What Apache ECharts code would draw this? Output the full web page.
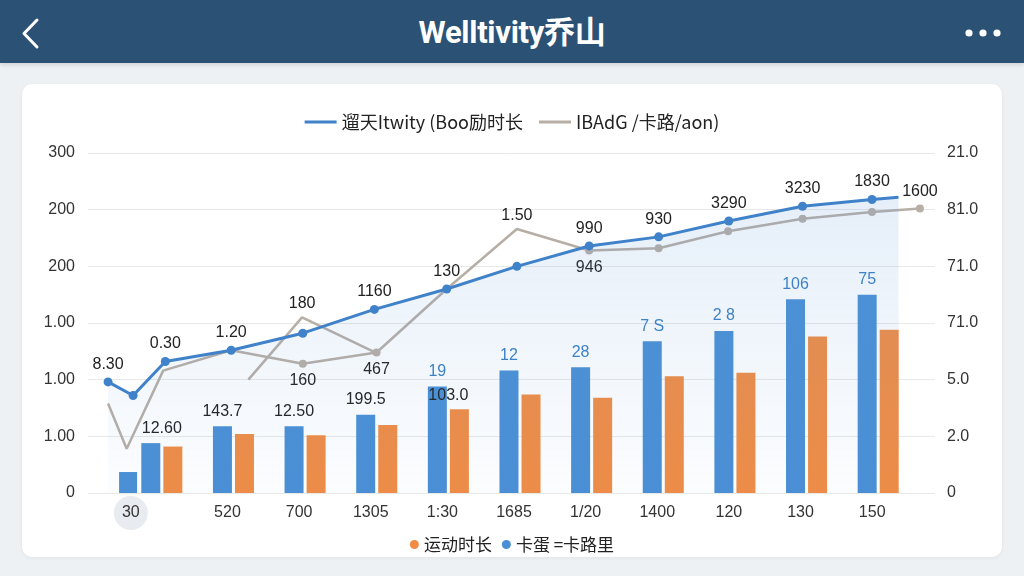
<!DOCTYPE html>
<html>
<head>
<meta charset="utf-8">
<title>Welltivity乔山</title>
<script src="https://cdn.jsdelivr.net/npm/echarts@6/dist/echarts.min.js"></script>
<style>
  html, body { margin: 0; padding: 0; background: #eef1f4; overflow: hidden; }
  .topbar { position: absolute; left: 0; top: 0; width: 1024px; height: 63px; background: #2b5274;
            box-shadow: 0 2px 4px rgba(0, 0, 0, 0.12); }
  .topbar .title { position: absolute; left: 0; right: 0; top: 0; text-align: center;
                   color: #fff; font: bold 31px Roboto, "Noto Sans CJK SC", sans-serif; line-height: 66px;
                   letter-spacing: -0.3px; }
  .topbar svg { position: absolute; left: 0; top: 0; }
  .card { position: absolute; left: 22px; top: 84px; width: 980px; height: 473px; background: #fff;
          border-radius: 10px; box-shadow: 0 1px 4px rgba(0, 0, 0, 0.06); }
  #main { position: absolute; left: 0; top: 0; width: 1024px; height: 576px; }
</style>
</head>
<body>
<div class="topbar">
  <div class="title">Welltivity乔山</div>
  <svg width="1024" height="63">
    <polyline points="37,20 24,33.5 37,47" fill="none" stroke="#fff" stroke-width="3" stroke-linecap="round" stroke-linejoin="round"/>
    <circle cx="969" cy="33" r="3.6" fill="#fff"/>
    <circle cx="983" cy="33" r="3.6" fill="#fff"/>
    <circle cx="997" cy="33" r="3.6" fill="#fff"/>
  </svg>
</div>
<div class="card"></div>
<div id="main"></div>
<script>
// 分类与柱状数据
var categories = ['30', '520', '700', '1305', '1:30', '1685', '1/20', '1400', '120', '130', '150'];
var calorieBars = [44, 59, 59, 69, 94, 108, 111, 134, 143, 171, 175];
var durationBars = [41, 52, 51, 60, 74, 87, 84, 103, 106, 138, 144];
var calorieBarLabels = ['12.60', '143.7', '12.50', '199.5', '19', '12', '28', '7 S', '2 8', '106', '75'];
var durationBarLabels = ['', '', '', '', '103.0', '', '', '', '', '', ''];
// 第一组前面多出的小柱 (x 以分类序号为单位)
var extraBarX = [-0.47];
var extraBarValues = [18.5];

// 折线数据, x 以分类序号为单位
var activityX = [-0.75, -0.4, 0.05, 0.97, 1.97, 2.97, 3.98, 4.96, 5.97, 6.94, 7.92, 8.95, 9.92, 10.29];
var activityValues = [98, 86, 116, 126, 141, 162, 180, 200, 218, 226, 240, 253, 259, 261];
var activityLabels = ['8.30', '', '0.30', '1.20', '', '1160', '130', '', '990', '930', '3290', '3230', '1830', ''];

var calorieX = [-0.75, -0.49, 0.02, 0.97, 1.97, 3.0, 3.98, 4.96, 5.97, 6.94, 7.91, 8.95, 9.92, 10.59];
var calorieValues = [79, 39, 108, 126, 114, 124, 180, 233, 214, 216, 231, 242, 248, 251];
var calorieLabels = ['', '', '', '', '160', '467', '', '1.50', '946', '', '', '', '', '1600'];

// 单独的一段灰线
var sideX = [1.21, 1.96, 2.95];
var sideValues = [100, 155, 125];
var sideLabels = ['', '180', ''];

// 坐标轴刻度文字 (从下到上)
var leftTicks = ['0', '1.00', '1.00', '1.00', '200', '200', '300'];
var rightTicks = ['0', '2.0', '5.0', '71.0', '71.0', '81.0', '21.0'];

var lineNames = ['遛天Itwity (Boo励时长', 'IBAdG /卡路/aon)'];
var barNames = ['运动时长', '卡蛋 =卡路里'];

var font = '"Liberation Sans", Arial, "Noto Sans CJK SC", sans-serif';
var cjkFont = '"Noto Sans CJK SC", "Liberation Sans", sans-serif';
var blue = '#4a8fd5';
var lineBlue = '#3f82ca';
var orange = '#f08c45';
var gray = '#b7aea6';
var labelBlue = '#3b80c4';

var calorieBelow = [4, 5, 8];
var grayDots = [4, 5, 8, 9, 10, 11, 12, 13];

function lineData(xs, ys, labels, below) {
  return xs.map(function (x, i) {
    return {
      value: [x, ys[i]],
      label: {
        show: labels[i] !== '',
        formatter: labels[i],
        position: below && below.indexOf(i) >= 0 ? 'bottom' : 'top'
      }
    };
  });
}

var main = document.getElementById('main');
var myChart = echarts.init(main);

var option = {
  backgroundColor: 'transparent',
  animation: false,
  textStyle: { fontFamily: font },
  legend: [{
    data: lineNames,
    top: 108,
    left: 'center',
    icon: 'rect',
    itemWidth: 32,
    itemHeight: 3,
    itemGap: 16,
    textStyle: { fontSize: 18, color: '#222', fontFamily: cjkFont }
  }, {
    data: barNames,
    top: 531,
    left: 'center',
    icon: 'circle',
    itemWidth: 9,
    itemHeight: 9,
    itemGap: 10,
    textStyle: { fontSize: 17, color: '#222', fontFamily: cjkFont }
  }],
  grid: [
    { left: 88, right: 89, top: 153, bottom: 83 },
    { left: 126, right: 110, top: 153, bottom: 83 }
  ],
  xAxis: [{
    type: 'value',
    gridIndex: 0,
    min: -1.03,
    max: 10.8,
    show: false
  }, {
    type: 'category',
    gridIndex: 1,
    data: categories,
    axisLine: { show: false },
    axisTick: { show: false },
    axisLabel: {
      margin: 3,
      interval: 0,
      formatter: function (v, i) {
        if (i === 0) {
          return '{sel|' + v + '}{s0| }';
        }
        return '{n|' + v + '}{s1| }';
      },
      rich: {
        sel: { fontSize: 16, color: '#333', width: 34, height: 34, lineHeight: 34, align: 'center',
               backgroundColor: '#e8ebef', borderRadius: 17 },
        s0: { width: 62 },
        n: { fontSize: 16, color: '#333', lineHeight: 34 },
        s1: { width: 12 }
      }
    }
  }],
  yAxis: [{
    type: 'value',
    gridIndex: 0,
    position: 'left',
    min: 0,
    max: 300,
    interval: 50,
    axisLine: { show: false },
    axisTick: { show: false },
    axisLabel: {
      margin: 13,
      fontSize: 16,
      color: '#333',
      formatter: function (v) { return leftTicks[Math.round(v / 50)]; }
    },
    splitLine: { lineStyle: { color: '#e8e8e8', width: 1 } }
  }, {
    type: 'value',
    gridIndex: 0,
    position: 'right',
    min: 0,
    max: 300,
    interval: 50,
    axisLine: { show: false },
    axisTick: { show: false },
    axisLabel: {
      margin: 12,
      fontSize: 16,
      color: '#333',
      formatter: function (v) { return rightTicks[Math.round(v / 50)]; }
    },
    splitLine: { show: false }
  }, {
    type: 'value',
    gridIndex: 1,
    min: 0,
    max: 300,
    show: false
  }],
  series: [{
    name: barNames[1],
    type: 'bar',
    xAxisIndex: 1,
    yAxisIndex: 2,
    barWidth: 19,
    barGap: '16%',
    itemStyle: { color: blue },
    data: calorieBars.map(function (v, i) {
      return {
        value: v,
        label: {
          show: true,
          position: 'top',
          distance: 7,
          formatter: calorieBarLabels[i],
          fontSize: 16,
          color: i < 4 ? '#222' : labelBlue,
          offset: i === 0 ? [11, 0] : [0, 0]
        }
      };
    }),
    z: 3
  }, {
    name: barNames[0],
    type: 'bar',
    xAxisIndex: 1,
    yAxisIndex: 2,
    barWidth: 19,
    itemStyle: { color: orange },
    data: durationBars.map(function (v, i) {
      return {
        value: v,
        label: {
          show: durationBarLabels[i] !== '',
          position: 'top',
          distance: 6,
          formatter: durationBarLabels[i],
          fontSize: 16,
          color: '#222',
          offset: [-11, 0]
        }
      };
    }),
    z: 3
  }, {
    name: barNames[1],
    type: 'bar',
    xAxisIndex: 0,
    yAxisIndex: 0,
    barWidth: 18,
    itemStyle: { color: blue },
    data: extraBarX.map(function (x, i) { return [x, extraBarValues[i]]; }),
    z: 3
  }, {
    name: lineNames[1],
    type: 'line',
    xAxisIndex: 0,
    yAxisIndex: 0,
    symbol: 'circle',
    symbolSize: function (v, p) { return grayDots.indexOf(p.dataIndex) >= 0 ? 8 : 0; },
    lineStyle: { color: gray, width: 2.5 },
    itemStyle: { color: gray },
    label: { fontSize: 16, color: '#222', distance: 5 },
    data: lineData(calorieX, calorieValues, calorieLabels, calorieBelow),
    z: 4
  }, {
    name: lineNames[1],
    type: 'line',
    xAxisIndex: 0,
    yAxisIndex: 0,
    symbol: 'circle',
    symbolSize: 0,
    lineStyle: { color: gray, width: 2.5 },
    itemStyle: { color: gray },
    label: { fontSize: 16, color: '#222', distance: 6 },
    data: lineData(sideX, sideValues, sideLabels),
    z: 4
  }, {
    name: lineNames[0],
    type: 'line',
    xAxisIndex: 0,
    yAxisIndex: 0,
    symbol: 'circle',
    symbolSize: function (v, p) { return p.dataIndex === activityX.length - 1 ? 0 : 9; },
    lineStyle: { color: lineBlue, width: 3 },
    itemStyle: { color: lineBlue },
    label: { fontSize: 16, color: '#222', distance: 5 },
    areaStyle: {
      color: new echarts.graphic.LinearGradient(0, 0, 0, 1, [
        { offset: 0, color: 'rgba(90,150,215,0.22)' },
        { offset: 1, color: 'rgba(90,150,215,0.03)' }
      ])
    },
    data: lineData(activityX, activityValues, activityLabels),
    z: 5
  }]
};

myChart.setOption(option);
</script>
</body>
</html>
